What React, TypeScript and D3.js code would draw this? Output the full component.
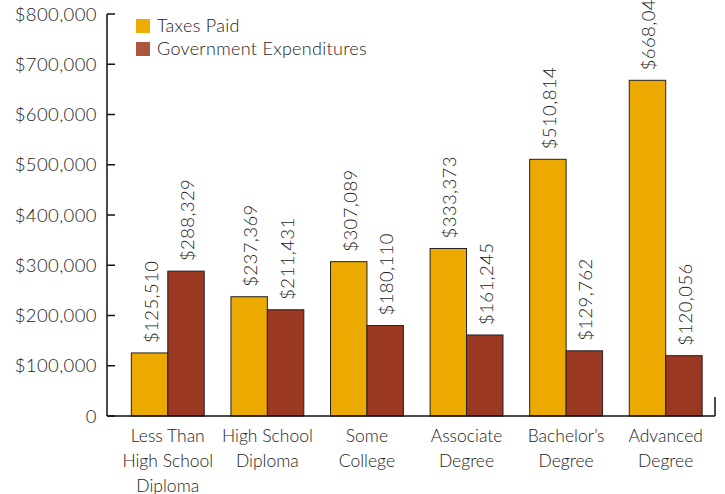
import { useEffect, useRef } from 'react';
import * as d3 from 'd3';

const CATEGORIES = [
  ['Less Than', 'High School', 'Diploma'],
  ['High School', 'Diploma'],
  ['Some', 'College'],
  ['Associate', 'Degree'],
  ['Bachelor\u2019s', 'Degree'],
  ['Advanced', 'Degree'],
];
const TAXES_PAID = [125510, 237369, 307089, 333373, 510814, 668046];
const GOV_EXPENDITURES = [288329, 211431, 180110, 161245, 129762, 120056];
const SERIES = ['Taxes Paid', 'Government Expenditures'];
const Y_TICKS = [0, 100000, 200000, 300000, 400000, 500000, 600000, 700000, 800000];

const W = 725;
const H = 494;
const FONT = 'Lato, "DejaVu Sans", sans-serif';
const BAR_COLORS = ['#ecaa00', '#9a3822'];
const LEGEND_COLORS = ['#efac00', '#a9573f'];

export default function App() {
  const svgRef = useRef<SVGSVGElement>(null);

  useEffect(() => {
    if (!svgRef.current) return;
    const svg = d3.select(svgRef.current);
    svg.selectAll('*').remove();

    const axisX = 107;
    const axisRight = 715;
    const y = d3.scaleLinear().domain([0, 800000]).range([416, 14]);
    const x = d3
      .scaleBand<number>()
      .domain(d3.range(CATEGORIES.length))
      .range([118, 715.5])
      .padding(0);
    const bw = x.bandwidth();
    const sub = d3
      .scaleBand<number>()
      .domain([0, 1])
      .range([bw * 0.134, bw * 0.866])
      .padding(0);

    const fmt = d3.format(',');

    // ── Bars ──────────────────────────────────────────────
    const bars = svg.append('g');
    CATEGORIES.forEach((_, i) => {
      [TAXES_PAID[i], GOV_EXPENDITURES[i]].forEach((v, s) => {
        const bx = x(i)! + sub(s)!;
        bars
          .append('rect')
          .attr('x', bx)
          .attr('y', y(v))
          .attr('width', sub.bandwidth())
          .attr('height', y(0) - y(v))
          .attr('fill', BAR_COLORS[s])
          .attr('stroke', '#222')
          .attr('stroke-width', 1);

        const cx = bx + sub.bandwidth() / 2 + 8;
        bars
          .append('text')
          .attr('transform', `translate(${cx},${y(v) - 10}) rotate(-90)`)
          .attr('text-anchor', 'start')
          .attr('font-family', FONT)
          .attr('font-weight', 300)
          .attr('font-size', 18.5)
          .attr('letter-spacing', 0.4)
          .attr('fill', '#222')
          .text('$' + fmt(v));
      });
    });

    // ── Axes ──────────────────────────────────────────────
    const axes = svg.append('g').attr('stroke', '#111').attr('stroke-width', 1.5);
    axes
      .append('line')
      .attr('x1', axisX).attr('x2', axisX)
      .attr('y1', y(800000)).attr('y2', y(0));
    axes
      .append('line')
      .attr('x1', axisX).attr('x2', axisRight)
      .attr('y1', y(0)).attr('y2', y(0));
    axes
      .append('line')
      .attr('x1', axisRight).attr('x2', axisRight)
      .attr('y1', y(0) - 19).attr('y2', y(0));
    Y_TICKS.forEach(t => {
      axes
        .append('line')
        .attr('x1', axisX).attr('x2', axisX + 8)
        .attr('y1', y(t)).attr('y2', y(t));
    });

    svg
      .append('g')
      .selectAll('text')
      .data(Y_TICKS)
      .join('text')
      .attr('x', 97)
      .attr('y', d => y(d) + 6.5)
      .attr('text-anchor', 'end')
      .attr('font-family', FONT)
      .attr('font-weight', 300)
      .attr('font-size', 18.5)
      .attr('letter-spacing', 0.4)
      .attr('fill', '#222')
      .text(d => (d === 0 ? '0' : '$' + fmt(d)));

    // ── Category labels ───────────────────────────────────
    CATEGORIES.forEach((lines, i) => {
      const t = svg
        .append('text')
        .attr('text-anchor', 'middle')
        .attr('font-family', FONT)
        .attr('font-weight', 300)
        .attr('font-size', 17.5)
        .attr('fill', '#222');
      lines.forEach((ln, j) => {
        t.append('tspan')
          .attr('x', x(i)! + bw / 2)
          .attr('y', 442 + j * 25)
          .text(ln);
      });
    });

    // ── Legend ────────────────────────────────────────────
    SERIES.forEach((name, i) => {
      const ly = 19 + i * 23;
      svg
        .append('rect')
        .attr('x', 136)
        .attr('y', ly)
        .attr('width', 14)
        .attr('height', 14)
        .attr('fill', LEGEND_COLORS[i]);
      svg
        .append('text')
        .attr('x', 157)
        .attr('y', ly + 13)
        .attr('font-family', FONT)
        .attr('font-weight', 300)
        .attr('font-size', 18)
        .attr('letter-spacing', 0.3)
        .attr('fill', '#222')
        .text(name);
    });
  }, []);

  return (
    <svg
      ref={svgRef}
      width={W}
      height={H}
      style={{ position: 'absolute', left: 0, top: 0, background: '#fff' }}
    />
  );
}
